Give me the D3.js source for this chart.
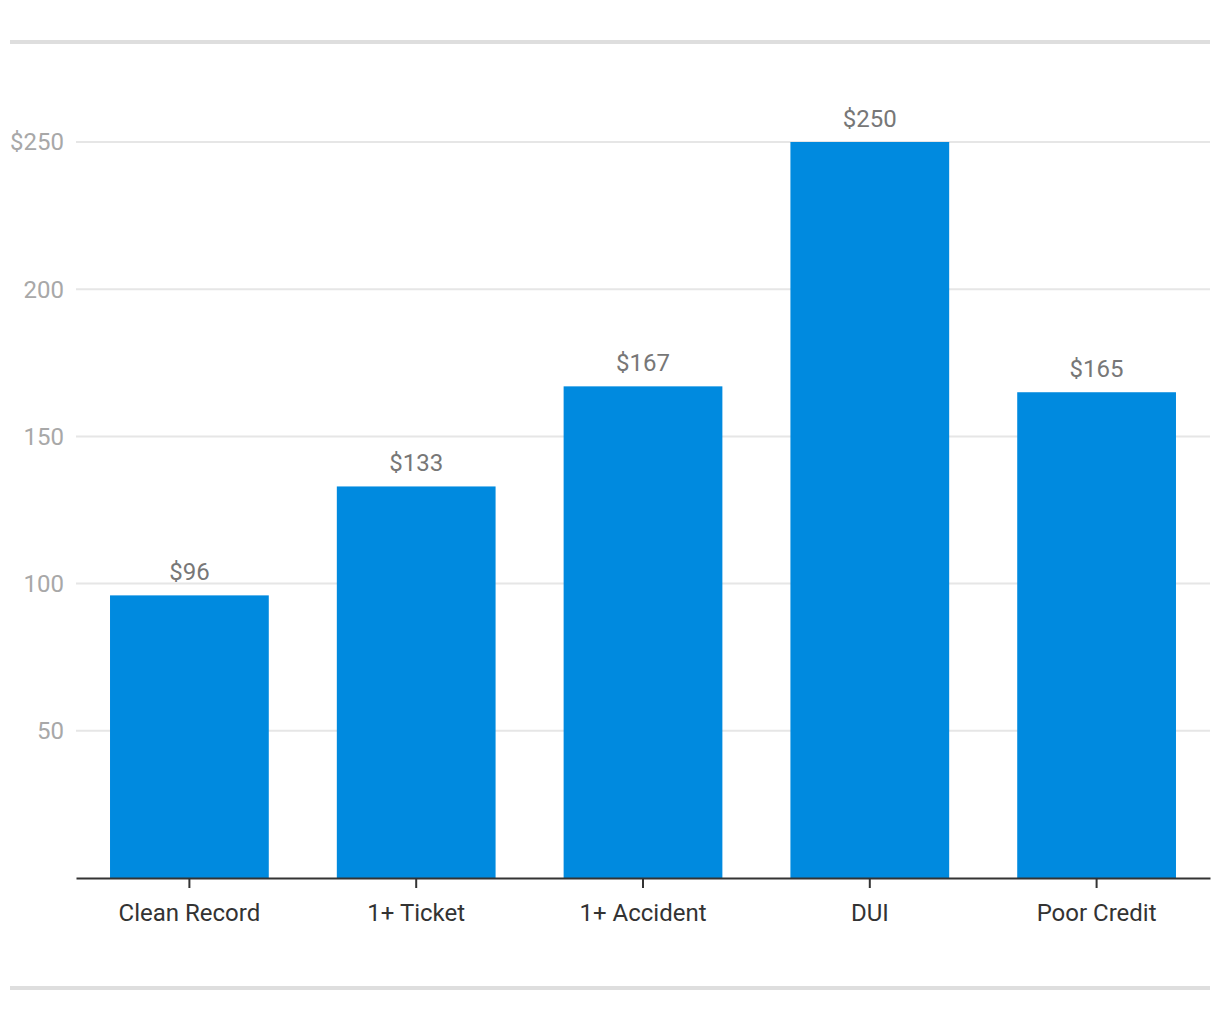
<!DOCTYPE html>
<html>
<head>
<meta charset="utf-8">
<script src="https://cdn.jsdelivr.net/npm/d3@7"></script>
<style>
  body { margin: 0; background: #fff; }
  svg { display: block; font-family: Roboto, "Noto Sans", sans-serif; }
</style>
</head>
<body>
<svg id="chart" width="1220" height="1020"></svg>
<script>
// Chart data
const categories = ["Clean Record", "1+ Ticket", "1+ Accident", "DUI", "Poor Credit"];
const premiums = [96, 133, 167, 250, 165];
const yTicks = [50, 100, 150, 200, 250];
const yTickLabels = ["50", "100", "150", "200", "$250"];

const svg = d3.select("#chart");
const margin = { left: 76, right: 10, top: 0 };

// Scales
const x = d3.scaleBand()
    .domain(categories)
    .range([margin.left, 1220 - margin.right])
    .paddingInner(0.3)
    .paddingOuter(0.15);

const y = d3.scaleLinear()
    .domain([0, 250])
    .range([878, 142]);

// Top and bottom rules
svg.append("rect").attr("x", 10).attr("y", 40).attr("width", 1200).attr("height", 4).attr("fill", "#dedede");
svg.append("rect").attr("x", 10).attr("y", 986).attr("width", 1200).attr("height", 4).attr("fill", "#dedede");

// Gridlines
svg.append("g")
  .selectAll("line")
  .data(yTicks)
  .join("line")
    .attr("x1", margin.left)
    .attr("x2", 1210)
    .attr("y1", d => y(d))
    .attr("y2", d => y(d))
    .attr("stroke", "#e6e6e6")
    .attr("stroke-width", 2);

// Y tick labels
svg.append("g")
  .selectAll("text")
  .data(yTicks)
  .join("text")
    .attr("x", 64)
    .attr("y", d => y(d))
    .attr("dy", "0.35em")
    .attr("text-anchor", "end")
    .attr("fill", "#a8a8a8")
    .style("font-size", "24px")
    .text((d, i) => yTickLabels[i]);

// Bars
svg.append("g")
  .selectAll("rect")
  .data(premiums)
  .join("rect")
    .attr("x", (d, i) => x(categories[i]))
    .attr("y", d => y(d))
    .attr("width", x.bandwidth())
    .attr("height", d => y(0) - y(d))
    .attr("fill", "#008adf");

// Value labels
svg.append("g")
  .selectAll("text")
  .data(premiums)
  .join("text")
    .attr("x", (d, i) => x(categories[i]) + x.bandwidth() / 2)
    .attr("y", d => y(d) - 15)
    .attr("text-anchor", "middle")
    .attr("fill", "#777")
    .style("font-size", "24px")
    .text(d => "$" + d);

// X axis
const xAxis = svg.append("g")
    .attr("transform", `translate(0,${y(0)})`)
    .call(d3.axisBottom(x).tickSize(10).tickSizeOuter(0).tickPadding(16));

xAxis.select(".domain").attr("stroke", "#333").attr("stroke-width", 2);
xAxis.selectAll(".tick line").attr("stroke", "#333").attr("stroke-width", 2);
xAxis.selectAll(".tick text")
    .attr("fill", "#333")
    .style("font-size", "24px")
    .style("font-family", "Roboto, sans-serif");
</script>
</body>
</html>
